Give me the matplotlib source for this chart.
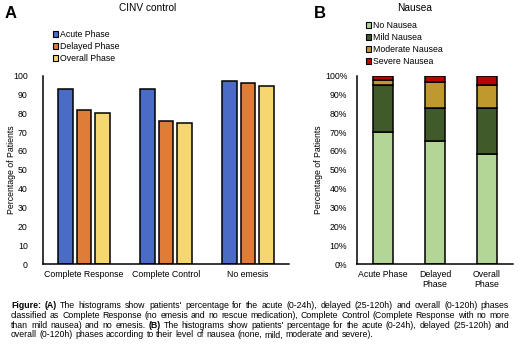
import matplotlib
matplotlib.use("Agg")
import matplotlib.pyplot as plt
import numpy as np
from matplotlib.patches import Patch

plt.rcParams["font.family"] = ["Liberation Sans", "DejaVu Sans"]

# panel A data
groups_a = ["Complete Response", "Complete Control", "No emesis"]
phases_a = ["Acute Phase", "Delayed Phase", "Overall Phase"]
acute = [93, 93, 97]
delayed = [81.5, 76, 96]
overall = [80, 75, 94.5]
colors_a = ["#4a6bc6", "#de7c38", "#f6d66f"]

# panel B data
groups_b = ["Acute Phase", "Delayed\nPhase", "Overall\nPhase"]
levels_b = ["No Nausea", "Mild Nausea", "Moderate Nausea", "Severe Nausea"]
no_nausea = [70, 65, 58.5]
mild = [25, 18, 24]
moderate = [2.5, 13.3, 12.7]
severe = [2.5, 3.7, 4.8]
colors_b = ["#b3d596", "#415a29", "#bf992e", "#c00000"]

# caption lines, words wrapped in * are bold
caption = [
    "*Figure:* *(A)* The histograms show patients' percentage for the acute (0-24h), delayed (25-120h) and overall (0-120h) phases",
    "classified as Complete Response (no emesis and no rescue medication), Complete Control (Complete Response with no more",
    "than mild nausea) and no emesis. *(B)* The histograms show patients' percentage for the acute (0-24h), delayed (25-120h) and",
    "overall (0-120h) phases according to their level of nausea (none, mild, moderate and severe).",
]

W, H = 520, 345
fig = plt.figure(figsize=(W / 100, H / 100), dpi=100)


def box(x0, y0, x1, y1):
    # pixel box (top-left origin) -> figure fraction rect
    return [x0 / W, 1 - y1 / H, (x1 - x0) / W, (y1 - y0) / H]


def style(ax):
    for s in ["top", "right"]:
        ax.spines[s].set_visible(False)
    for s in ["left", "bottom"]:
        ax.spines[s].set_linewidth(1.1)
    ax.tick_params(length=0, labelsize=6.3)


# ---- panel A
axA = fig.add_axes(box(43, 75.5, 289, 264))
x = np.arange(len(groups_a))
w = 0.18
for i, (vals, c) in enumerate(zip([acute, delayed, overall], colors_a)):
    axA.bar(x + (i - 1) * 0.225, vals, w, color=c, edgecolor="black", linewidth=1.1)
axA.set_xlim(-0.5, 2.5)
axA.set_ylim(0, 100)
axA.set_yticks(range(0, 101, 10))
axA.set_xticks(x)
axA.set_xticklabels(groups_a)
style(axA)
axA.tick_params(axis="y", pad=11)
axA.tick_params(axis="x", pad=4)
axA.set_ylabel("Percentage of Patients", fontsize=6.3)
axA.yaxis.set_label_coords(-27 / 246, 0.5)
fig.text(148 / W, 1 - 8 / H, "CINV control", ha="center", va="center", fontsize=7.3)
fig.text(5 / W, 1 - 13 / H, "A", ha="left", va="center", fontsize=12, fontweight="bold")
handles_a = [Patch(facecolor=c, edgecolor="black", linewidth=0.8) for c in colors_a]
fig.legend(handles_a, phases_a, loc="upper left", bbox_to_anchor=(53 / W, 1 - 30 / H),
           frameon=False, fontsize=6.3, handlelength=0.6, handleheight=0.6,
           handletextpad=0.2, labelspacing=0.35, borderpad=0, borderaxespad=0)

# ---- panel B
axB = fig.add_axes(box(357, 75.5, 513, 264))
xb = np.arange(len(groups_b))
bottom = np.zeros(len(groups_b))
for vals, c in zip([no_nausea, mild, moderate, severe], colors_b):
    axB.bar(xb, vals, 0.38, bottom=bottom, color=c, edgecolor="black", linewidth=1.1)
    bottom += np.array(vals)
axB.set_xlim(-0.5, 2.5)
axB.set_ylim(0, 100)
axB.set_yticks(range(0, 101, 10))
axB.set_yticklabels([f"{v}%" for v in range(0, 101, 10)])
axB.set_xticks(xb)
axB.set_xticklabels(groups_b, linespacing=1.25)
style(axB)
axB.tick_params(axis="y", pad=7)
axB.tick_params(axis="x", pad=4)
axB.set_ylabel("Percentage of Patients", fontsize=6.3)
axB.yaxis.set_label_coords(-34 / 156, 0.5)
fig.text(415 / W, 1 - 8 / H, "Nausea", ha="center", va="center", fontsize=7.3)
fig.text(314 / W, 1 - 14 / H, "B", ha="left", va="center", fontsize=12, fontweight="bold")
handles_b = [Patch(facecolor=c, edgecolor="black", linewidth=0.8) for c in colors_b]
fig.legend(handles_b, levels_b, loc="upper left", bbox_to_anchor=(366 / W, 1 - 21 / H),
           frameon=False, fontsize=6.3, handlelength=0.6, handleheight=0.6,
           handletextpad=0.2, labelspacing=0.35, borderpad=0, borderaxespad=0)

# ---- caption, justified between x0 and x1 (last line left aligned)
renderer = fig.canvas.get_renderer()
x0, x1 = 11, 509
cap_size = 6.3
for k, line in enumerate(caption):
    y = 1 - (308 + 9.8 * k) / H
    words = []
    for tok in line.split(" "):
        bold = tok.startswith("*") and tok.endswith("*")
        words.append((tok.strip("*"), bold))
    texts = [fig.text(0, y, t, ha="left", va="baseline", fontsize=cap_size,
                      fontweight="bold" if b else "normal") for t, b in words]
    widths = [t.get_window_extent(renderer).width for t in texts]
    if k < len(caption) - 1:
        gap = (x1 - x0 - sum(widths)) / (len(widths) - 1)
    else:
        gap = cap_size * 0.28 * 100 / 72
    pos = x0
    for t, wd in zip(texts, widths):
        t.set_x(pos / W)
        pos += wd + gap

fig.savefig("out.png", dpi=100)
